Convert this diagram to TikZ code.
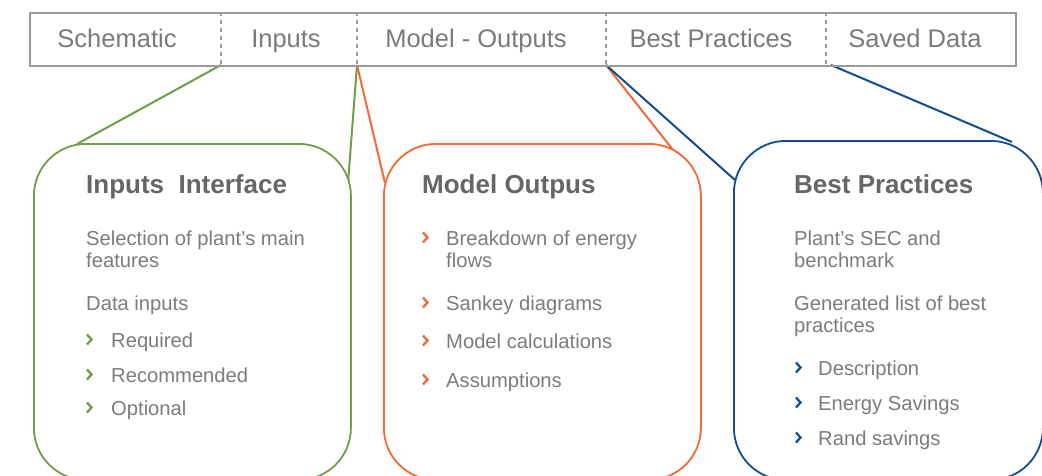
\documentclass[tikz,border=0pt]{standalone}
\usepackage{fontspec}
\setmainfont{Liberation Sans}
\usepackage{tikz}
\usetikzlibrary{positioning,backgrounds}

\definecolor{ingreen}{HTML}{6E9E45}
\definecolor{outorange}{HTML}{EF6A36}
\definecolor{bpblue}{HTML}{124C91}
\definecolor{bargray}{HTML}{9A9A9A}
\definecolor{tabgray}{HTML}{7A7A7A}
\definecolor{headgray}{HTML}{666666}
\definecolor{bodygray}{HTML}{7C7C7C}

\begin{document}
\begin{tikzpicture}[x=1pt,y=-1pt,line width=1.8pt,
    tab node/.style={anchor=base,inner sep=0pt,text=tabgray,font=\fontsize{25.5}{30}\selectfont},
    divider/.style={draw=bargray,dash pattern=on 4pt off 4pt,line width=2.4pt},
    panel/.style={draw,fill=white,rounded corners=52pt,line width=1.8pt,anchor=north west,inner sep=0pt},
    head node/.style={anchor=base west,inner sep=0pt,text=headgray,font=\fontsize{26}{30}\selectfont\bfseries},
    item node/.style={anchor=base west,inner sep=0pt,text=bodygray,font=\fontsize{20.2}{24}\selectfont},
    chev/.pic={\draw[line width=2.3pt,miter limit=4] (0,-12.5) -- (4.5,-7.5) -- (0,-2.5);}]

  \useasboundingbox (0,0) rectangle (1042,475);
  \clip (0,0) rectangle (1042,475);

  % tab bar
  \node[draw=bargray,line width=2pt,minimum width=986pt,minimum height=53pt,
        anchor=north west,inner sep=0pt] (bar) at (29,12) {};
  \foreach \x/\n in {221/d1,357/d2,606/d3,826/d4}{
    \draw[divider] (\x,12) -- (\x,65);
    \coordinate (\n) at (\x,65);
  }
  \coordinate (d4b) at (831,65);

  \node[tab node] (schem) at (117,47) {Schematic};
  \node[tab node] (inp) at (286,47) {Inputs};
  \node[tab node] (modout) at (476,47) {Model - Outputs};
  \node[tab node] (bestp) at (711,47) {Best Practices};
  \node[tab node] (saved) at (915,47) {Saved Data};

  % panels
  \node[panel,draw=ingreen,minimum width=317pt,minimum height=336pt] (inbox) at (33,143) {};
  \node[panel,draw=outorange,minimum width=317pt,minimum height=336pt] (outbox) at (383,143) {};
  \node[panel,draw=bpblue,minimum width=309pt,minimum height=339pt] (bpbox) at (733,140) {};

  \coordinate (inL) at (77,144);
  \coordinate (inR) at (348,183);
  \coordinate (outL) at (385,183);
  \coordinate (outR) at (677,155);
  \coordinate (bpL) at (735,180);
  \coordinate (bpR) at (1012,142);

  \begin{pgfonlayer}{background}
    \path[line width=2pt]
      (d1) edge[draw=ingreen] (inL)
      (d2) edge[draw=ingreen] (inR)
      (d2) edge[draw=outorange] (outL)
      (d3) edge[draw=outorange] (outR)
      (d3) edge[draw=bpblue] (bpL)
      (d4b) edge[draw=bpblue] (bpR);
  \end{pgfonlayer}

  % inputs interface
  \node[head node] (inhead) at (86,193) {Inputs\ \ Interface};
  \node[item node] (in1) at (86,245) {Selection of plant’s main};
  \node[item node] (in2) at (86,267) {features};
  \node[item node] (in3) at (86,310) {Data inputs};
  \foreach \y/\t [count=\i] in {347/Required,382/Recommended,415/Optional}{
    \pic[draw=ingreen] at (87,\y) {chev};
    \node[item node] (ini\i) at (111,\y) {\t};
  }

  % model outputs
  \node[head node] (outhead) at (422,193) {Model Outpus};
  \foreach \y/\t [count=\i] in {245/Breakdown of energy,310/Sankey diagrams,348/Model calculations,387/Assumptions}{
    \pic[draw=outorange] at (423,\y) {chev};
    \node[item node] (outi\i) at (446,\y) {\t};
  }
  \node[item node] (outi1b) at (446,267) {flows};

  % best practices
  \node[head node] (bphead) at (794,193) {Best Practices};
  \node[item node] (bp1) at (794,245) {Plant’s SEC and};
  \node[item node] (bp2) at (794,267) {benchmark};
  \node[item node] (bp3) at (794,310) {Generated list of best};
  \node[item node] (bp4) at (794,332) {practices};
  \foreach \y/\t [count=\i] in {375/Description,410/Energy Savings,445/Rand savings}{
    \pic[draw=bpblue] at (796,\y) {chev};
    \node[item node] (bpi\i) at (818,\y) {\t};
  }

\end{tikzpicture}
\end{document}
